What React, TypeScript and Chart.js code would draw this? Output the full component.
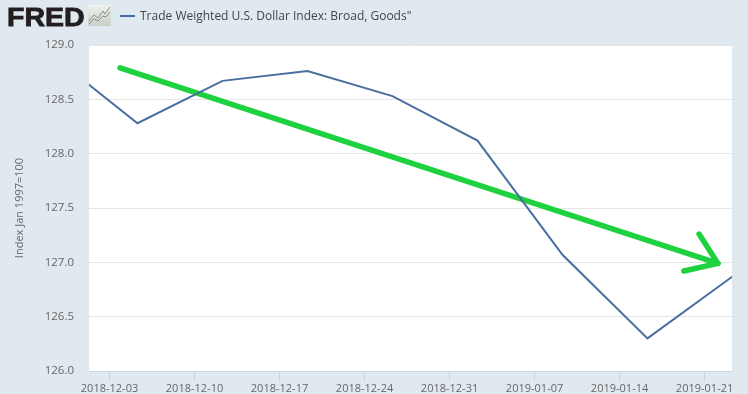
import React, { useEffect, useRef } from "react";
import { Chart, registerables } from "chart.js";

Chart.register(...registerables);

const seriesName = 'Trade Weighted U.S. Dollar Index: Broad, Goods"';
const yAxisTitle = "Index Jan 1997=100";
const tickDays = [0, 7, 14, 21, 28, 35, 42, 49];
const tickLabels = [
  "2018-12-03", "2018-12-10", "2018-12-17", "2018-12-24",
  "2018-12-31", "2019-01-07", "2019-01-14", "2019-01-21",
];
const pointDays = [-4.7, 2.3, 9.3, 16.3, 23.3, 30.3, 37.3, 44.3, 51.3];
const pointValues = [128.9, 128.28, 128.67, 128.76, 128.53, 128.12, 127.07, 126.3, 126.87];
const shaftDays = [0.87, 50.1];
const shaftValues = [128.79, 126.99];
const headDays = [48.55, 50.1, 47.3];
const headValues = [127.26, 126.99, 126.92];

const BG = "#e1e9f0";
const TEXT = "#666666";
const FONT = '"Open Sans", sans-serif';

const toPoints = (xs: number[], ys: number[]) => xs.map((x, i) => ({ x, y: ys[i] }));

export default function App() {
  const ref = useRef<HTMLCanvasElement>(null);

  useEffect(() => {
    document.body.style.margin = "0";
    document.body.style.background = BG;
    const whitePlot = {
      id: "whitePlot",
      beforeDraw(c: any) {
        const { ctx, chartArea: a } = c;
        ctx.save();
        ctx.fillStyle = "#ffffff";
        ctx.fillRect(a.left, a.top, a.right - a.left, a.bottom - a.top);
        ctx.restore();
      },
    };
    const arrow = { borderColor: "#1dd13f", borderWidth: 5.5, pointRadius: 0, borderCapStyle: "round", borderJoinStyle: "round", tension: 0 };
    const chart = new Chart(ref.current!, {
      type: "line",
      data: {
        datasets: [
          { label: seriesName, data: toPoints(pointDays, pointValues), borderColor: "#4a6f9f", borderWidth: 2, pointRadius: 0, tension: 0 },
          { label: "arrow shaft", data: toPoints(shaftDays, shaftValues), ...arrow },
          { label: "arrow head", data: toPoints(headDays, headValues), ...arrow },
        ],
      } as any,
      options: {
        animation: false,
        responsive: false,
        layout: { padding: { top: 45, right: 16, left: 0, bottom: 0 } },
        plugins: { legend: { display: false }, tooltip: { enabled: false } },
        scales: {
          x: {
            type: "linear",
            min: -1.69,
            max: 51.26,
            afterFit: (s: any) => { s.height = 23; },
            afterBuildTicks: (s: any) => { s.ticks = tickDays.map((value) => ({ value })); },
            ticks: {
              autoSkip: false,
              maxRotation: 0,
              padding: 1,
              color: TEXT,
              font: { family: FONT, size: 11 },
              callback: (v: any) => tickLabels[tickDays.indexOf(Number(v))] ?? "",
            },
            grid: { drawOnChartArea: false, drawTicks: true, tickLength: 10, color: "#c8d5e2" },
            border: { color: "#c8d5e2", width: 1 },
          },
          y: {
            type: "linear",
            min: 126,
            max: 129,
            afterFit: (s: any) => { s.width = 89; },
            title: { display: true, text: yAxisTitle, color: TEXT, font: { family: FONT, size: 11 }, padding: { top: 13, bottom: 0 } },
            ticks: {
              stepSize: 0.5,
              padding: 15,
              color: TEXT,
              font: { family: FONT, size: 11.5 },
              callback: (v: any) => Number(v).toFixed(1),
            },
            grid: { color: "#e6e6e6", drawTicks: false },
            border: { display: false },
          },
        },
      } as any,
      plugins: [whitePlot],
    });
    return () => chart.destroy();
  }, []);

  return (
    <div style={{ position: "fixed", left: 0, top: 0, width: 748, height: 394, background: BG, overflow: "hidden" }}>
      <canvas ref={ref} width={748} height={394} style={{ position: "absolute", left: 0, top: 0, display: "block" }} />
      <div style={{ position: "absolute", left: 7, top: 1, font: '900 25px/32px "Liberation Sans", sans-serif', color: "#231f20", WebkitTextStroke: "0.8px #231f20", transform: "scaleX(1.14)", transformOrigin: "left top" }}>FRED</div>
      <svg width={23} height={21} style={{ position: "absolute", left: 88, top: 5 }}>
        <defs>
          <linearGradient id="g" x1="0" y1="0" x2="0" y2="1">
            <stop offset="0" stopColor="#eef1ee" />
            <stop offset="1" stopColor="#c9cfc8" />
          </linearGradient>
        </defs>
        <rect width={23} height={21} fill="url(#g)" />
        <polyline points="1,16 6,10 10,13 15,6 17,9 22,2" fill="none" stroke="#7f9f6f" strokeWidth={1} />
        <polyline points="1,19 6,14 10,16 15,11 18,12 22,7" fill="none" stroke="#8a8f88" strokeWidth={1} />
      </svg>
      <div style={{ position: "absolute", left: 120, top: 15, width: 15, height: 2, background: "#4a6f9f" }} />
      <div style={{ position: "absolute", left: 140, top: 7, font: `12px/17px ${FONT}`, color: "#444444", whiteSpace: "nowrap" }}>{seriesName}</div>
    </div>
  );
}
